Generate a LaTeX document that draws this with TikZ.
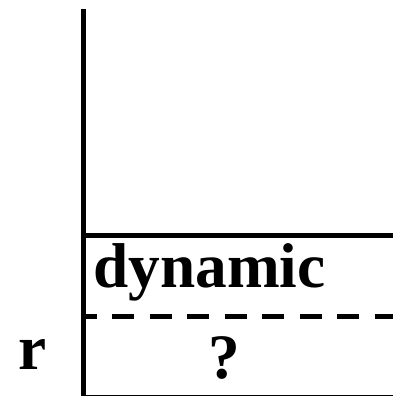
\documentclass[tikz,border=0pt]{standalone}
\usepackage{fontspec}
\setmainfont{Liberation Serif}
\begin{document}
\begin{tikzpicture}[x=1pt,y=-1pt,
  rule/.style={line width=5pt, black},
  dashrule/.style={line width=5pt, black, dash pattern=on 22pt off 15.5pt, dash phase=9pt},
  lbl/.style={anchor=base west, inner sep=0pt, font=\fontsize{63.3pt}{70pt}\selectfont\bfseries}]
\useasboundingbox (0,0) rectangle (393,396);
\clip (0,0) rectangle (393,396);
\coordinate (vtop) at (83.5,9.5);
\coordinate (vbot) at (83.5,400);
\coordinate (hl) at (83.5,235);
\coordinate (hr) at (400,235);
\coordinate (dl) at (83.5,316.5);
\coordinate (dr) at (400,316.5);
\coordinate (bl) at (83.5,397.3);
\coordinate (br) at (400,397.3);
\draw[rule] (vtop) -- (vbot);
\draw[rule] (hl) -- (hr);
\draw[dashrule] (dl) -- (dr);
\draw[rule] (bl) -- (br);
\node[lbl] (dyn) at (93.3,287) {dynamic};
\node[lbl] (r) at (18,369) {r};
\node[lbl] (q) at (208.5,378) {?};
\end{tikzpicture}
\end{document}
